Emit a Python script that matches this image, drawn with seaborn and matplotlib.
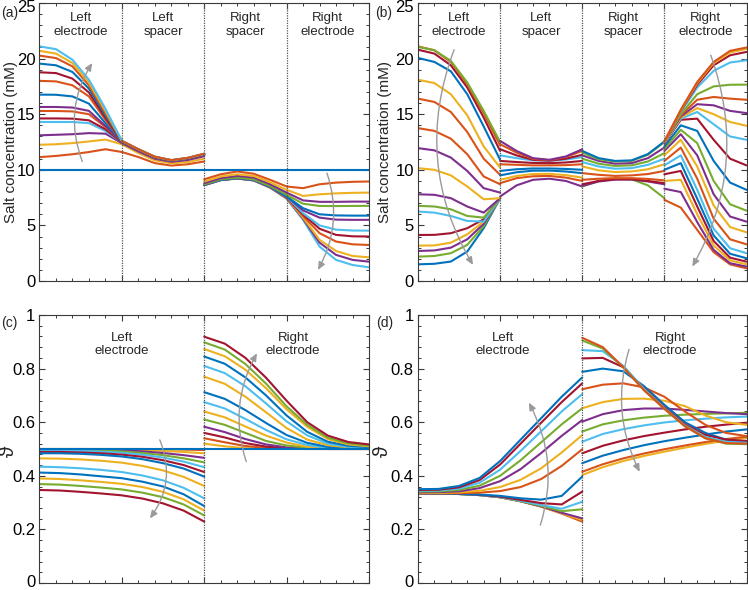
import matplotlib
matplotlib.use("Agg")
import matplotlib.pyplot as plt
from matplotlib.ticker import MultipleLocator, FuncFormatter
from matplotlib.transforms import ScaledTranslation
import pandas as pd
import seaborn as sns

# MATLAB-like colour order used for the curves
COLORS = {"b": "#0072BD", "o": "#D95319", "y": "#EDB120", "p": "#7E2F8E",
          "g": "#77AC30", "c": "#4DBEEE", "r": "#A2142F"}

# sample positions inside one section
X_SHORT = [0.0, 0.2, 0.4, 0.6, 0.8, 1.0]                              # panels a, b
X_LONG = [0.0, 0.25, 0.5, 0.75, 1.0, 1.25, 1.5, 1.75, 2.0]           # panels c, d

# ---------------- panel (a): salt concentration (mM) ----------------
A_BASELINE = [10.0, 10.0]
A_LEFT_ELECTRODE = [
    ("o", [11.14, 11.25, 11.4, 11.6, 11.85, 11.6]),
    ("y", [12.25, 12.3, 12.4, 12.55, 12.72, 12.3]),
    ("p", [13.1, 13.15, 13.2, 13.3, 13.25, 12.4]),
    ("c", [14.3, 14.3, 14.3, 14.2, 13.5, 12.45]),
    ("r", [14.62, 14.62, 14.6, 14.45, 13.65, 12.45]),
    ("o", [15.29, 15.29, 15.25, 15.0, 13.85, 12.5]),
    ("p", [15.65, 15.65, 15.6, 15.3, 13.95, 12.5]),
    ("b", [16.76, 16.75, 16.6, 15.95, 14.2, 12.5]),
    ("o", [18.0, 17.95, 17.6, 16.6, 14.5, 12.55]),
    ("r", [18.77, 18.7, 18.2, 16.95, 14.7, 12.55]),
    ("b", [19.55, 19.4, 18.8, 17.3, 14.9, 12.6]),
    ("o", [20.27, 20.05, 19.3, 17.6, 15.1, 12.6]),
    ("y", [20.7, 20.45, 19.6, 17.85, 15.3, 12.6]),
    ("c", [21.1, 20.85, 19.9, 18.1, 15.5, 12.6]),
]
A_LEFT_SPACER = [
    ("o", [11.6, 11.15, 10.6, 10.38, 10.5, 10.75]),
    ("y", [12.3, 11.5, 10.85, 10.58, 10.7, 11.0]),
    ("p", [12.4, 11.65, 11.0, 10.72, 10.88, 11.22]),
    ("c", [12.45, 11.75, 11.1, 10.8, 11.0, 11.35]),
    ("r", [12.45, 11.75, 11.1, 10.8, 11.0, 11.35]),
    ("o", [12.5, 11.8, 11.12, 10.82, 11.02, 11.4]),
    ("p", [12.5, 11.8, 11.12, 10.82, 11.02, 11.38]),
    ("b", [12.5, 11.8, 11.13, 10.83, 11.03, 11.4]),
    ("o", [12.55, 11.82, 11.15, 10.85, 11.05, 11.42]),
    ("r", [12.55, 11.82, 11.15, 10.85, 11.05, 11.42]),
    ("b", [12.6, 11.85, 11.17, 10.86, 11.06, 11.43]),
    ("y", [12.6, 11.85, 11.18, 10.87, 11.07, 11.44]),
    ("c", [12.6, 11.85, 11.18, 10.87, 11.07, 11.44]),
    ("o", [12.6, 11.85, 11.18, 10.87, 11.07, 11.45]),
]
A_RIGHT_SPACER = [
    ("c", [8.62, 9.08, 9.22, 9.05, 8.4, 7.4]),
    ("p", [8.62, 9.08, 9.22, 9.05, 8.4, 7.45]),
    ("y", [8.63, 9.08, 9.23, 9.06, 8.42, 7.45]),
    ("o", [8.63, 9.09, 9.23, 9.06, 8.43, 7.5]),
    ("r", [8.64, 9.09, 9.24, 9.07, 8.45, 7.5]),
    ("c", [8.64, 9.1, 9.24, 9.07, 8.46, 7.55]),
    ("p", [8.65, 9.1, 9.25, 9.08, 8.48, 7.6]),
    ("b", [8.66, 9.1, 9.26, 9.09, 8.5, 7.6]),
    ("g", [8.7, 9.15, 9.3, 9.13, 8.55, 7.75]),
    ("p", [8.8, 9.25, 9.45, 9.3, 8.7, 7.95]),
    ("y", [8.95, 9.4, 9.6, 9.45, 8.88, 8.2]),
    ("o", [9.15, 9.6, 9.85, 9.65, 9.1, 8.5]),
]
A_RIGHT_ELECTRODE = [
    ("c", [7.4, 5.5, 3.1, 1.9, 1.44, 1.23]),
    ("p", [7.45, 5.6, 3.45, 2.35, 1.9, 1.74]),
    ("y", [7.45, 5.7, 3.7, 2.7, 2.25, 2.13]),
    ("o", [7.5, 5.85, 4.3, 3.55, 3.3, 3.24]),
    ("r", [7.5, 6.0, 4.7, 4.15, 4.02, 4.0]),
    ("c", [7.55, 6.1, 5.0, 4.62, 4.54, 4.53]),
    ("p", [7.6, 6.35, 5.7, 5.52, 5.5, 5.5]),
    ("b", [7.6, 6.55, 6.0, 5.9, 5.88, 5.88]),
    ("g", [7.75, 6.95, 6.75, 6.74, 6.75, 6.76]),
    ("p", [7.95, 7.25, 7.12, 7.12, 7.14, 7.14]),
    ("y", [8.2, 7.65, 7.8, 7.88, 7.93, 7.95]),
    ("o", [8.5, 8.35, 8.7, 8.85, 8.92, 8.95]),
]

# ---------------- panel (b): salt concentration (mM) ----------------
B_LEFT_ELECTRODE = [
    ("b", [1.5, 1.55, 1.75, 2.65, 4.75, 7.45]),
    ("g", [2.19, 2.25, 2.5, 3.25, 4.95, 7.45]),
    ("p", [2.7, 2.75, 3.0, 3.75, 5.15, 7.45]),
    ("y", [3.18, 3.2, 3.45, 4.2, 5.35, 7.45]),
    ("r", [4.14, 4.15, 4.3, 4.75, 5.55, 7.45]),
    ("c", [6.25, 6.15, 5.85, 5.4, 5.35, 7.45]),
    ("g", [6.76, 6.7, 6.45, 5.85, 5.7, 7.45]),
    ("p", [7.8, 7.75, 7.45, 6.7, 6.15, 7.45]),
    ("y", [10.15, 10.0, 9.5, 8.5, 7.35, 7.45]),
    ("p", [11.95, 11.75, 11.1, 9.9, 8.35, 7.95]),
    ("o", [13.75, 13.5, 12.8, 11.4, 9.4, 8.7]),
    ("o", [16.4, 16.1, 15.2, 13.4, 11.0, 9.55]),
    ("y", [18.1, 17.8, 16.8, 14.9, 12.1, 10.2]),
    ("b", [20.06, 19.7, 18.86, 16.8, 13.9, 10.9]),
    ("r", [20.8, 20.45, 19.4, 17.4, 14.7, 11.7]),
    ("o", [21.1, 20.75, 19.7, 17.7, 15.1, 12.2]),
    ("g", [21.05, 20.75, 19.8, 17.85, 15.3, 12.5]),
]
B_LEFT_SPACER = [
    ("p", [7.6, 8.6, 9.1, 9.2, 9.0, 8.5]),
    ("o", [8.8, 9.25, 9.42, 9.45, 9.3, 9.0]),
    ("y", [9.1, 9.45, 9.62, 9.64, 9.52, 9.3]),
    ("b", [9.5, 9.78, 9.92, 9.93, 9.85, 9.7]),
    ("b", [9.9, 10.05, 10.12, 10.12, 10.08, 10.0]),
    ("o", [10.5, 10.45, 10.4, 10.4, 10.42, 10.5]),
    ("r", [10.8, 10.7, 10.62, 10.6, 10.66, 10.8]),
    ("c", [11.3, 11.05, 10.85, 10.82, 10.92, 11.15]),
    ("r", [11.85, 11.3, 10.9, 10.82, 11.0, 11.35]),
    ("o", [12.3, 11.55, 10.98, 10.87, 11.15, 11.7]),
    ("p", [12.6, 11.7, 11.05, 10.9, 11.2, 11.85]),
]
B_RIGHT_SPACER = [
    ("g", [8.5, 9.0, 9.2, 9.15, 8.6, 7.45]),
    ("p", [8.55, 8.95, 9.12, 9.13, 8.95, 8.7]),
    ("r", [8.7, 9.0, 9.15, 9.15, 9.0, 8.8]),
    ("o", [9.1, 9.2, 9.25, 9.25, 9.18, 9.05]),
    ("o", [9.7, 9.55, 9.45, 9.5, 9.62, 9.9]),
    ("y", [10.3, 9.95, 9.8, 9.85, 10.05, 10.5]),
    ("c", [10.7, 10.3, 10.1, 10.15, 10.45, 11.0]),
    ("g", [11.0, 10.55, 10.35, 10.4, 10.75, 11.5]),
    ("p", [11.3, 10.8, 10.55, 10.6, 11.05, 12.0]),
    ("g", [11.55, 10.95, 10.75, 10.8, 11.35, 12.5]),
    ("b", [11.7, 11.05, 10.8, 10.85, 11.42, 12.55]),
]
B_RIGHT_ELECTRODE = [
    ("o", [7.3, 6.6, 4.6, 2.6, 1.5, 1.14]),
    ("p", [8.3, 8.0, 5.3, 2.8, 1.6, 1.3]),
    ("y", [9.0, 9.1, 6.0, 3.2, 1.85, 1.5]),
    ("r", [9.6, 9.9, 6.7, 3.6, 2.1, 1.74]),
    ("b", [10.0, 10.6, 7.4, 4.1, 2.45, 2.05]),
    ("c", [10.4, 11.3, 8.2, 4.7, 2.95, 2.5]),
    ("o", [10.8, 12.0, 9.2, 5.6, 3.75, 3.3]),
    ("y", [11.3, 12.7, 10.3, 6.8, 4.85, 4.38]),
    ("p", [11.7, 13.2, 11.3, 7.8, 5.8, 5.34]),
    ("g", [11.9, 13.6, 12.4, 9.0, 6.9, 6.33]),
    ("b", [12.1, 14.0, 13.5, 10.8, 8.85, 8.2]),
    ("r", [12.35, 14.5, 14.6, 12.7, 11.0, 10.4]),
    ("c", [12.4, 14.6, 15.2, 14.1, 13.0, 12.7]),
    ("y", [12.45, 14.7, 15.55, 15.0, 14.3, 13.96]),
    ("p", [12.5, 14.8, 15.9, 15.8, 15.3, 15.1]),
    ("o", [12.5, 14.9, 16.3, 16.55, 16.4, 16.3]),
    ("g", [12.55, 15.0, 16.8, 17.5, 17.65, 17.66]),
    ("c", [12.55, 15.2, 17.4, 18.9, 19.65, 19.85]),
    ("r", [12.55, 15.3, 17.65, 19.4, 20.3, 20.6]),
    ("y", [12.55, 15.35, 17.8, 19.6, 20.55, 20.87]),
    ("o", [12.55, 15.4, 17.9, 19.7, 20.7, 21.0]),
]

# ---------------- panel (c): theta ----------------
C_BASELINE = [0.5, 0.5]
C_LEFT = [
    ("o", [.500, .500, .500, .500, .500, .500, .499, .498, .496]),
    ("y", [.500, .500, .500, .499, .498, .496, .493, .489, .484]),
    ("p", [.499, .499, .498, .497, .495, .491, .485, .477, .467]),
    ("g", [.497, .497, .496, .494, .491, .485, .477, .465, .450]),
    ("c", [.494, .494, .493, .490, .486, .479, .468, .453, .432]),
    ("r", [.489, .489, .487, .484, .479, .471, .458, .440, .414]),
    ("b", [.484, .484, .482, .478, .472, .462, .447, .427, .397]),
    ("y", [.465, .464, .461, .456, .449, .437, .420, .396, .362]),
    ("c", [.434, .432, .428, .422, .414, .401, .383, .355, .316]),
    ("b", [.412, .410, .405, .398, .391, .378, .360, .331, .287]),
    ("y", [.390, .388, .383, .377, .370, .358, .340, .312, .270]),
    ("g", [.369, .367, .362, .356, .349, .337, .320, .293, .252]),
    ("r", [.347, .345, .340, .334, .327, .315, .297, .270, .229]),
]
C_RIGHT = [
    ("y", [.520, .510, .503, .500, .500, .500, .500, .500, .500]),
    ("o", [.540, .525, .511, .504, .501, .500, .500, .500, .500]),
    ("r", [.560, .543, .522, .509, .503, .501, .500, .500, .500]),
    ("p", [.583, .563, .537, .517, .506, .502, .500, .500, .500]),
    ("g", [.610, .590, .560, .530, .513, .505, .501, .500, .500]),
    ("y", [.640, .618, .584, .550, .524, .508, .503, .501, .500]),
    ("c", [.675, .651, .612, .571, .536, .515, .504, .501, .501]),
    ("b", [.712, .687, .645, .597, .552, .523, .508, .504, .502]),
    ("y", [.770, .743, .695, .637, .578, .535, .514, .506, .503]),
    ("c", [.810, .783, .734, .670, .603, .551, .520, .508, .505]),
    ("b", [.845, .818, .767, .700, .625, .564, .527, .512, .507]),
    ("y", [.873, .846, .796, .727, .648, .583, .537, .517, .510]),
    ("g", [.898, .871, .817, .744, .659, .590, .542, .521, .513]),
    ("r", [.919, .893, .840, .766, .680, .600, .550, .526, .517]),
]

# ---------------- panel (d): theta ----------------
D_LEFT = [
    ("o", [.335, .334, .332, .328, .320, .305, .285, .259, .229]),
    ("y", [.335, .334, .332, .328, .320, .305, .285, .260, .235]),
    ("p", [.335, .334, .332, .328, .320, .305, .286, .262, .241]),
    ("g", [.335, .334, .332, .328, .320, .305, .288, .268, .275]),
    ("c", [.335, .334, .332, .328, .321, .307, .291, .277, .303]),
    ("r", [.335, .334, .333, .329, .322, .310, .298, .293, .341]),
    ("b", [.335, .335, .333, .330, .325, .316, .311, .325, .397]),
    ("o", [.335, .335, .335, .337, .343, .358, .388, .437, .499]),
    ("y", [.336, .336, .338, .344, .358, .385, .428, .487, .552]),
    ("p", [.338, .339, .342, .354, .380, .425, .485, .549, .608]),
    ("g", [.341, .342, .347, .363, .400, .458, .525, .592, .652]),
    ("c", [.344, .345, .352, .374, .423, .493, .566, .640, .705]),
    ("r", [.347, .348, .357, .384, .442, .520, .598, .675, .745]),
    ("b", [.350, .351, .362, .392, .455, .535, .615, .695, .767]),
]
D_RIGHT = [
    ("y", [.403, .432, .455, .474, .490, .505, .519, .531, .541]),
    ("o", [.415, .443, .465, .483, .499, .513, .526, .537, .546]),
    ("b", [.447, .475, .496, .514, .529, .542, .554, .565, .573]),
    ("r", [.484, .512, .532, .548, .561, .573, .583, .591, .598]),
    ("c", [.527, .556, .574, .588, .599, .607, .613, .618, .621]),
    ("g", [.565, .592, .607, .617, .624, .628, .631, .633, .635]),
    ("p", [.602, .630, .645, .651, .651, .646, .640, .634, .630]),
    ("y", [.652, .675, .687, .688, .680, .660, .625, .600, .590]),
    ("o", [.723, .740, .745, .730, .695, .640, .590, .560, .548]),
    ("b", [.788, .800, .790, .735, .665, .600, .560, .535, .525]),
    ("r", [.838, .840, .805, .727, .655, .592, .552, .535, .530]),
    ("c", [.869, .865, .810, .725, .652, .588, .545, .527, .523]),
    ("g", [.905, .875, .805, .720, .650, .585, .540, .520, .518]),
    ("o", [.915, .880, .805, .720, .650, .585, .540, .522, .520]),
]

sns.set_style("ticks")
plt.rcParams["font.family"] = ["Liberation Sans", "DejaVu Sans"]
plt.rcParams["axes.linewidth"] = 0.8

ARROW_GRAY = "#9a9a9a"
EDGE = "#3a3a3a"


def draw_curves(ax, curves, x0, xs, tag):
    rows = []
    pal = {}
    for i, (c, vals) in enumerate(curves):
        key = f"{tag}{i}"
        pal[key] = COLORS[c]
        for x, v in zip(xs, vals):
            rows.append({"x": x0 + x, "y": v, "id": key})
    df = pd.DataFrame(rows)
    sns.lineplot(data=df, x="x", y="y", hue="id", hue_order=list(pal),
                 palette=pal, estimator=None, sort=False, legend=False,
                 lw=1.5, ax=ax)


def draw_baseline(ax, level, tag):
    df = pd.DataFrame({"x": [0.0, 4.0], "y": level, "id": tag})
    sns.lineplot(data=df, x="x", y="y", hue="id", palette={tag: COLORS["b"]},
                 estimator=None, legend=False, lw=1.5, ax=ax)


def style_axes(ax, ymax, ymaj, ymin):
    ax.set_xlim(0, 4)
    ax.set_ylim(0, ymax)
    ax.xaxis.set_major_locator(MultipleLocator(1))
    ax.xaxis.set_minor_locator(MultipleLocator(0.2))
    ax.yaxis.set_major_locator(MultipleLocator(ymaj))
    ax.yaxis.set_minor_locator(MultipleLocator(ymin))
    ax.yaxis.set_major_formatter(FuncFormatter(lambda v, _: f"{v:g}"))
    ax.tick_params(which="both", direction="in", top=True, right=True,
                   labelbottom=False, colors=EDGE, labelcolor="black",
                   labelsize=12, pad=3)
    ax.tick_params(which="major", length=4, width=0.8)
    ax.tick_params(which="minor", length=2.2, width=0.7)
    ax.set_xlabel("")
    for s in ax.spines.values():
        s.set_color(EDGE)
        s.set_linewidth(0.8)


def boundaries(ax, xs):
    for x in xs:
        ax.axvline(x, color="#555555", lw=0.9, ls=(0, (1, 1)), zorder=5)


def arc_arrow(ax, tail, head, rad):
    ax.annotate("", xy=head, xytext=tail, zorder=6,
                arrowprops=dict(arrowstyle="-|>,head_length=0.45,head_width=0.2",
                                color=ARROW_GRAY, lw=1.0, shrinkA=0, shrinkB=0,
                                connectionstyle=f"arc3,rad={rad}"))


def section_labels(ax, labels, y):
    for x, txt in labels:
        ax.text(x, y, txt, ha="center", va="center", fontsize=9.5)


def nudge_label(ax, text, va, dy_px):
    # move one y tick label so it stays inside the canvas, like in the source figure
    for lab in ax.yaxis.get_majorticklabels():
        if lab.get_text() == text:
            lab.set_va(va)
            lab.set_transform(lab.get_transform() +
                              ScaledTranslation(0, dy_px / 72, fig.dpi_scale_trans))


fig = plt.figure(figsize=(7.48, 5.90), dpi=100)
ax_a = fig.add_axes([0.0528, 0.5237, 0.4405, 0.4712])
ax_b = fig.add_axes([0.5588, 0.5237, 0.4392, 0.4712])
ax_c = fig.add_axes([0.0528, 0.0119, 0.4405, 0.4542])
ax_d = fig.add_axes([0.5588, 0.0119, 0.4392, 0.4542])

# (a)
draw_curves(ax_a, A_LEFT_ELECTRODE, 0, X_SHORT, "ale")
draw_curves(ax_a, A_LEFT_SPACER, 1, X_SHORT, "als")
draw_curves(ax_a, A_RIGHT_SPACER, 2, X_SHORT, "ars")
draw_curves(ax_a, A_RIGHT_ELECTRODE, 3, X_SHORT, "are")
draw_baseline(ax_a, A_BASELINE, "abase")
style_axes(ax_a, 25, 5, 1)
boundaries(ax_a, [1, 2, 3])
section_labels(ax_a, [(0.5, "Left\nelectrode"), (1.5, "Left\nspacer"),
                      (2.5, "Right\nspacer"), (3.5, "Right\nelectrode")], 23.0)
arc_arrow(ax_a, (0.52, 10.75), (0.64, 19.6), -0.25)
arc_arrow(ax_a, (3.49, 9.7), (3.38, 1.0), -0.22)
ax_a.set_ylabel("Salt concentration (mM)", fontsize=11)
ax_a.yaxis.set_label_coords(-0.066, 0.5)

# (b)
draw_curves(ax_b, B_LEFT_ELECTRODE, 0, X_SHORT, "ble")
draw_curves(ax_b, B_LEFT_SPACER, 1, X_SHORT, "bls")
draw_curves(ax_b, B_RIGHT_SPACER, 2, X_SHORT, "brs")
draw_curves(ax_b, B_RIGHT_ELECTRODE, 3, X_SHORT, "bre")
style_axes(ax_b, 25, 5, 1)
boundaries(ax_b, [1, 2, 3])
section_labels(ax_b, [(0.5, "Left\nelectrode"), (1.5, "Left\nspacer"),
                      (2.5, "Right\nspacer"), (3.5, "Right\nelectrode")], 23.0)
arc_arrow(ax_b, (0.44, 20.8), (0.67, 1.45), 0.24)
arc_arrow(ax_b, (3.565, 20.3), (3.34, 1.3), -0.23)
ax_b.set_ylabel("Salt concentration (mM)", fontsize=11)
ax_b.yaxis.set_label_coords(-0.08, 0.5)

# (c)
draw_curves(ax_c, C_LEFT, 0, X_LONG, "cl")
draw_curves(ax_c, C_RIGHT, 2, X_LONG, "cr")
draw_baseline(ax_c, C_BASELINE, "cbase")
style_axes(ax_c, 1, 0.2, 0.04)
boundaries(ax_c, [2])
section_labels(ax_c, [(1.0, "Left\nelectrode"), (3.08, "Right\nelectrode")], 0.89)
arc_arrow(ax_c, (1.46, 0.534), (1.34, 0.241), -0.28)
arc_arrow(ax_c, (2.51, 0.453), (2.64, 0.857), -0.22)
ax_c.set_ylabel("\u03d1", fontsize=15)
ax_c.yaxis.set_label_coords(-0.066, 0.49)

# (d)
draw_curves(ax_d, D_LEFT, 0, X_LONG, "dl")
draw_curves(ax_d, D_RIGHT, 2, X_LONG, "dr")
style_axes(ax_d, 1, 0.2, 0.04)
boundaries(ax_d, [2])
section_labels(ax_d, [(1.03, "Left\nelectrode"), (3.07, "Right\nelectrode")], 0.89)
arc_arrow(ax_d, (1.49, 0.216), (1.35, 0.673), 0.21)
arc_arrow(ax_d, (2.57, 0.872), (2.70, 0.415), 0.2)
ax_d.set_ylabel("\u03d1", fontsize=15)
ax_d.yaxis.set_label_coords(-0.08, 0.49)

for lbl, x, y in [("(a)", 1, 13.5), ("(b)", 375, 13.5), ("(c)", 1, 323), ("(d)", 376, 323)]:
    fig.text(x / 748, 1 - y / 590, lbl, ha="left", va="center", fontsize=10)

fig.canvas.draw()
for ax in (ax_a, ax_b):
    nudge_label(ax, "25", "top", 2)
for ax in (ax_c, ax_d):
    nudge_label(ax, "0", "bottom", -5)

fig.savefig("out.png", dpi=100)
